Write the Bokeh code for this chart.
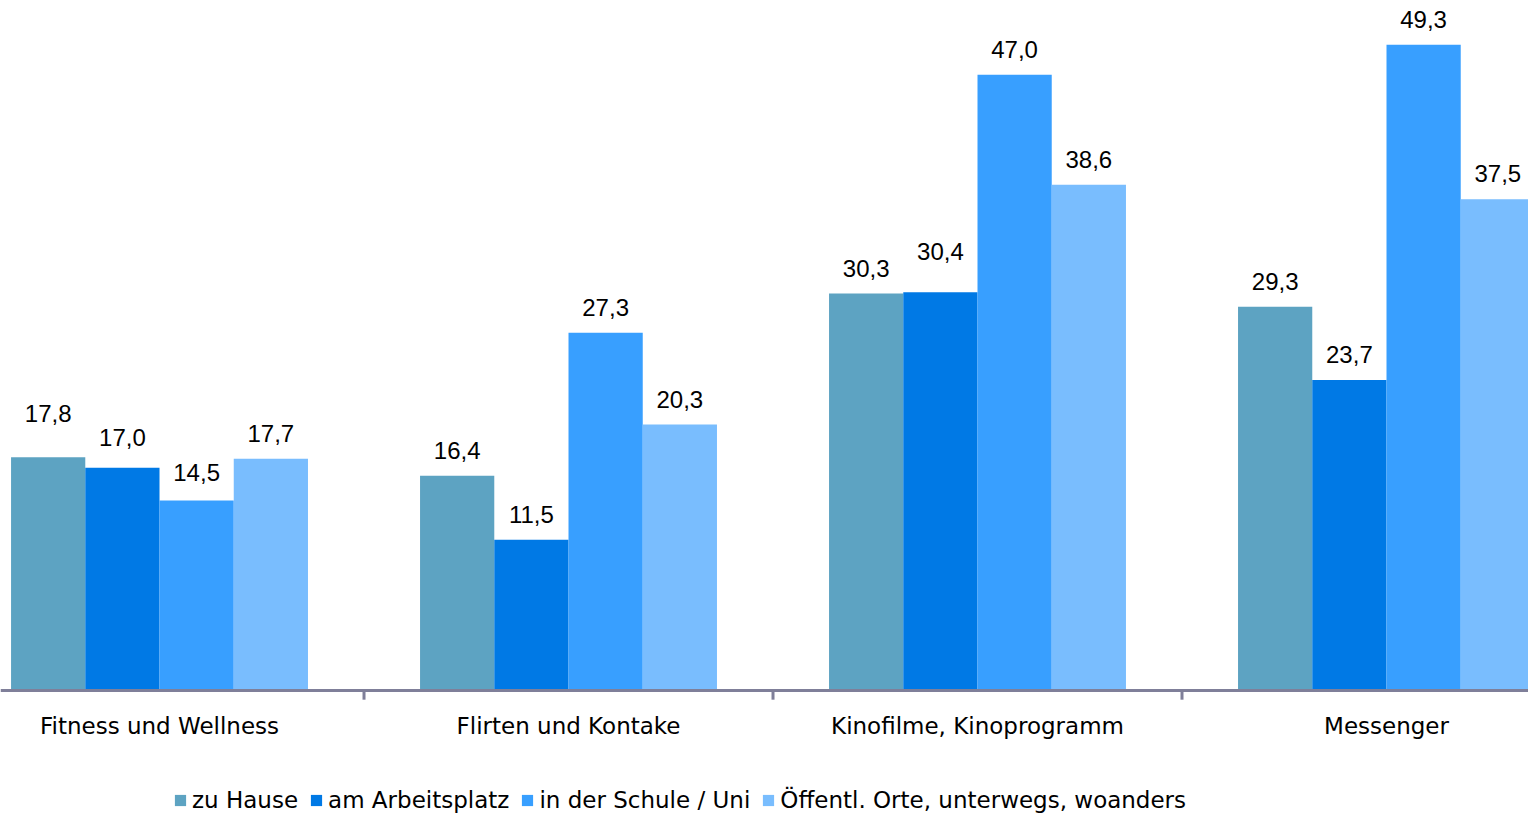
from bokeh.plotting import figure
from bokeh.models import (Range1d, ColumnDataSource, LabelSet, Legend,
                          LegendItem, Span)
from bokeh.core.properties import value
from bokeh.embed import file_html
from bokeh.resources import INLINE

# ---- data ----
categories = ["Fitness und Wellness", "Flirten und Kontake",
              "Kinofilme, Kinoprogramm", "Messenger"]
series_names = ["zu Hause", "am Arbeitsplatz", "in der Schule / Uni",
                "Öffentl. Orte, unterwegs, woanders"]
zu_hause = [17.8, 16.4, 30.3, 29.3]
am_arbeitsplatz = [17.0, 11.5, 30.4, 23.7]
in_der_schule = [14.5, 27.3, 47.0, 49.3]
oeffentl_orte = [17.7, 20.3, 38.6, 37.5]
all_series = [zu_hause, am_arbeitsplatz, in_der_schule, oeffentl_orte]

# ---- styles ----
colors = ["#5DA3C2", "#0079E5", "#389FFF", "#79BDFE"]
axis_color = "#7F7F99"
bar_w = 0.1815
label_gap = 17  # px above bar top
# extra lift (px) for labels that were moved to avoid overlap
label_lift = [[18, 0, 0, 0], [5, 0, 15, 0], [3, 0, 0, 0], [0, 0, 0, 0]]

p = figure(width=1528, height=815,
           x_range=Range1d(-0.3888, 3.3472), y_range=Range1d(-9.54, 52.67),
           output_backend="svg", toolbar_location=None,
           x_axis_location=None, y_axis_location=None,
           min_border=0)
p.outline_line_color = None
p.xgrid.visible = False
p.ygrid.visible = False

xs = list(range(len(categories)))
items = []
lx, ly, lt, lo = [], [], [], []
for si, (vals, col, name) in enumerate(zip(all_series, colors, series_names)):
    off = (si - 1.5) * bar_w
    src = ColumnDataSource(dict(x=[x + off for x in xs], top=vals))
    r = p.vbar(x="x", top="top", bottom=0, width=bar_w, source=src,
               fill_color=col, line_color=None)
    items.append(LegendItem(label=name, renderers=[r]))
    for ci, v in enumerate(vals):
        lx.append(xs[ci] + off)
        ly.append(v)
        lt.append(f"{v:.1f}".replace(".", ","))
        lo.append(label_gap + label_lift[si][ci])

lsrc = ColumnDataSource(dict(x=lx, y=ly, t=lt, o=lo))
p.add_layout(LabelSet(x="x", y="y", text="t", y_offset="o", source=lsrc,
                      text_align="center", text_baseline="alphabetic",
                      text_font=value("Liberation Sans"),
                      text_font_size="24px", text_color="#000000"))

# ---- category axis (baseline, boundary ticks, category labels) ----
p.add_layout(Span(location=0, dimension="width", line_color=axis_color,
                  line_width=3))
bounds = [x + 0.5 for x in xs[:-1]]
p.segment(x0=bounds, y0=[0] * len(bounds), x1=bounds,
          y1=[-0.7] * len(bounds), line_color=axis_color, line_width=3)
csrc = ColumnDataSource(dict(x=xs, y=[0] * len(xs), t=categories))
p.add_layout(LabelSet(x="x", y="y", text="t", y_offset=-35, source=csrc,
                      text_align="center", text_baseline="middle",
                      text_font=value("DejaVu Sans"),
                      text_font_size="23px", text_color="#000000"))

legend = Legend(items=items, orientation="horizontal", location=(173, 2),
                glyph_width=14, glyph_height=14, label_standoff=5, spacing=11,
                label_text_font="DejaVu Sans", label_text_font_size="23px",
                label_text_color="#000000", label_height=20,
                padding=0, margin=0, border_line_color=None,
                background_fill_alpha=0)
p.add_layout(legend)

open("out.html", "w").write(file_html(p, INLINE))
